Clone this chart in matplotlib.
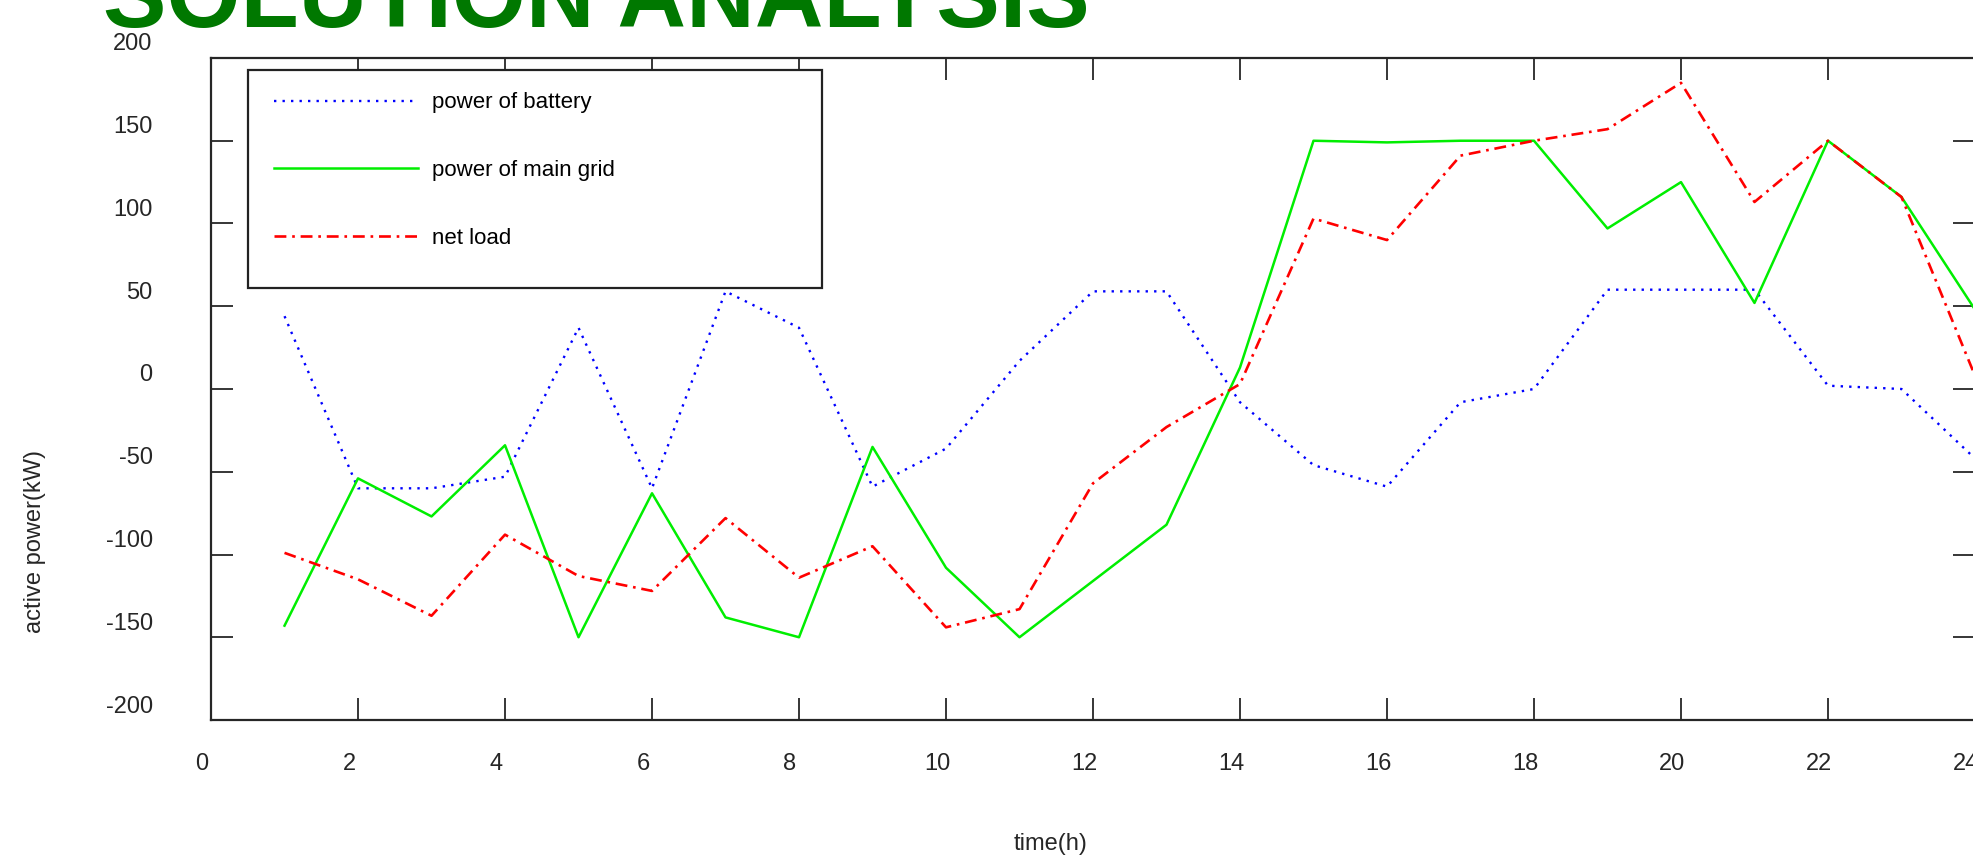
import matplotlib
matplotlib.use('Agg')
import matplotlib.pyplot as plt
import matplotlib.transforms as mtransforms
from matplotlib.patches import Rectangle

# podaci ocitani sa slike
hours = list(range(1, 25))
battery = [44, -60, -60, -53, 37, -60, 59, 37, -59, -36, 17, 59,
           59, -8, -46, -59, -8, 0, 60, 60, 60, 2, 0, -42]
grid = [-143, -54, -77, -34, -150, -63, -138, -150, -35, -108, -150, -116,
        -82, 13, 150, 149, 150, 150, 97, 125, 52, 150, 116, 48]
net_load = [-99, -115, -137, -88, -113, -122, -78, -114, -95, -144, -133, -57,
            -23, 3, 103, 90, 141, 150, 157, 185, 113, 150, 116, 8]
labels = ['power of battery', 'power of main grid', 'net load']
xticks = list(range(0, 25, 2))
yticks = list(range(-200, 201, 50))

plt.rcParams['font.family'] = ['Liberation Sans', 'DejaVu Sans']
plt.rcParams['axes.unicode_minus'] = False

fig = plt.figure(figsize=(19.74, 8.59), dpi=100)
ax = fig.add_axes([0.1069, 0.1618, 0.8936, 0.7707])

ax.plot(hours, battery, color='#0000ff', lw=1.7, linestyle=(0, (1, 2.6)), label=labels[0])
ax.plot(hours, grid, color='#00ee00', lw=1.8, label=labels[1])
ax.plot(hours, net_load, color='#ff0000', lw=1.9, linestyle=(0, (4.5, 2.2, 1, 2.2)), label=labels[2])

ax.set_xlim(0, 24)
ax.set_ylim(-200, 200)
ax.set_xticks(xticks)
ax.set_yticks(yticks)
ax.tick_params(direction='in', length=16, width=1.3, color='#262626',
               top=True, right=True, labelsize=17, labelcolor='#262626')
ax.tick_params(axis='x', pad=24)
ax.tick_params(axis='y', pad=42)
for sp in ax.spines.values():
    sp.set_color('#262626')
    sp.set_linewidth(1.6)

# pomeraj labela kao na originalu
for lab in ax.get_yticklabels():
    lab.set_transform(lab.get_transform() + mtransforms.ScaledTranslation(0, 0.16, fig.dpi_scale_trans))
for lab in ax.get_xticklabels():
    lab.set_transform(lab.get_transform() + mtransforms.ScaledTranslation(-0.09, 0, fig.dpi_scale_trans))

# legenda
ax.add_patch(Rectangle((0.021, 0.6526), 0.3254, 0.3293, transform=ax.transAxes,
                       facecolor='white', edgecolor='#222222', lw=1.6, zorder=4))
leg = ax.legend(loc='upper left', bbox_to_anchor=(0.0357, 0.948), frameon=False,
                borderaxespad=0, borderpad=0, handlelength=6.5, handletextpad=0.6,
                labelspacing=2.1, fontsize=16)
leg.set_zorder(5)

fig.text(0.0175, 0.370, 'active power(kW)', rotation=90, ha='center', va='center',
         fontsize=17, color='#262626')
fig.text(0.532, 0.018, 'time(h)', ha='center', va='center', fontsize=17, color='#262626')
fig.text(0.0522, 0.9686, 'SOLUTION ANALYSIS', ha='left', va='baseline',
         fontsize=68.5, fontweight='bold', color='#007800')

fig.savefig('out.png', dpi=100)
